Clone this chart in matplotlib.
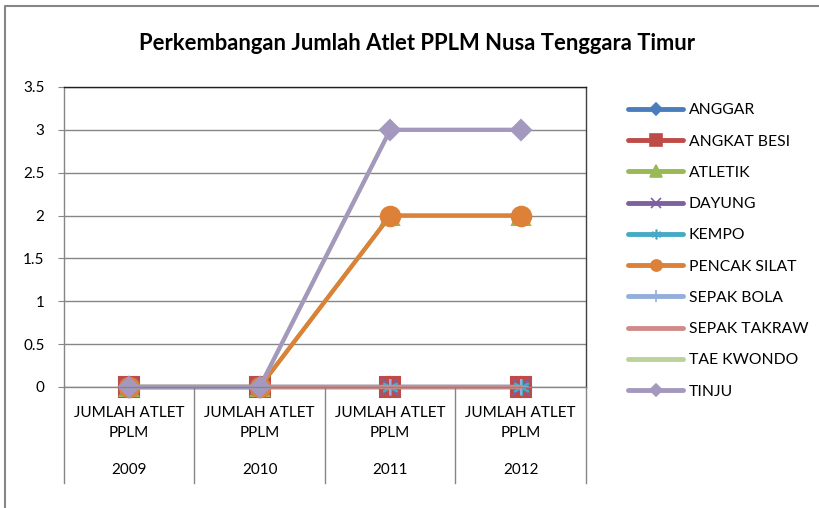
import numpy as np
import matplotlib.pyplot as plt
from matplotlib.lines import Line2D

plt.rcParams['font.family'] = ['Lato', 'DejaVu Sans']

# Data dari grafik
tahun = ['2009', '2010', '2011', '2012']
kategori = ['JUMLAH ATLET\nPPLM'] * 4
cabang = ['ANGGAR', 'ANGKAT BESI', 'ATLETIK', 'DAYUNG', 'KEMPO',
          'PENCAK SILAT', 'SEPAK BOLA', 'SEPAK TAKRAW', 'TAE KWONDO', 'TINJU']
anggar = [0, 0, 0, 0]
angkat_besi = [0, 0, 0, 0]
atletik = [0, 0, 2, 2]
dayung = [0, 0, 0, 0]
kempo = [0, 0, 0, 0]
pencak_silat = [0, 0, 2, 2]
sepak_bola = [0, 0, 0, 0]
sepak_takraw = [0, 0, 0, 0]
tae_kwondo = [0, 0, 3, 3]
tinju = [0, 0, 3, 3]
nilai = [anggar, angkat_besi, atletik, dayung, kempo,
         pencak_silat, sepak_bola, sepak_takraw, tae_kwondo, tinju]

warna = ['#4A7EBB', '#BE4B48', '#98B954', '#7D60A0', '#46AAC5',
         '#DD8038', '#92AEDA', '#D08B89', '#B9D398', '#A498BE']
penanda = ['D', 's', '^', 'x', (6, 2, 0), 'o', '+', None, None, 'D']
ukuran = [10, 14, 13, 12, 12, 14, 12, 0, 0, 10]
ukuran_leg = [6, 8, 8, 7, 7, 8, 8, 0, 0, 6]

fig = plt.figure(figsize=(8.2, 5.08), dpi=100)
ax = fig.add_axes([64/820, 1-387/508, 522/820, 300/508])

x = np.arange(len(tahun))
handles = []
for nama, y, c, m, s, sl in zip(cabang, nilai, warna, penanda, ukuran, ukuran_leg):
    ax.plot(x, y, color=c, lw=3, marker=m, markersize=s,
            markerfacecolor=c, markeredgecolor=c, markeredgewidth=1.5,
            clip_on=False, solid_capstyle='round')
    handles.append(Line2D([], [], color=c, lw=3.5, marker=m, markersize=sl,
                          markerfacecolor=c, markeredgecolor=c,
                          markeredgewidth=1.2, solid_capstyle='round', label=nama))

ax.set_xlim(-0.5, len(tahun) - 0.5)
ax.set_ylim(0, 3.5)
ax.set_yticks(np.arange(0, 3.51, 0.5))
ax.set_yticklabels(['0', '0.5', '1', '1.5', '2', '2.5', '3', '3.5'])
ax.yaxis.grid(True, color='#868686', lw=1)
ax.set_axisbelow(True)
ax.tick_params(axis='y', length=4, color='#868686', labelsize=11, pad=10)
ax.set_xticks([])
for sp in ax.spines.values():
    sp.set_color('#868686')
    sp.set_linewidth(1)
ax.spines['top'].set_color('#202020')
ax.spines['right'].set_color('#404040')

# label kategori bertingkat
tr = ax.get_xaxis_transform()
for i in range(len(tahun) + 1):
    ax.plot([i - 0.5, i - 0.5], [0, -96/300], transform=tr, color='#868686',
            lw=1, clip_on=False)
for i, (k, t) in enumerate(zip(kategori, tahun)):
    ax.text(i, -36/300, k, transform=tr, ha='center', va='center',
            fontsize=11, linespacing=1.5)
    ax.text(i, -83/300, t, transform=tr, ha='center', va='center', fontsize=11)

fig.text(417/820, 1-43/508, 'Perkembangan Jumlah Atlet PPLM Nusa Tenggara Timur',
         ha='center', va='center', fontsize=15.8, fontweight='bold')

fig.legend(handles=handles, loc='upper left', bbox_to_anchor=(622/820, 1-97/508),
           frameon=False, fontsize=11.3, handlelength=3.5, handletextpad=0.35,
           labelspacing=1.1, borderaxespad=0)

# bingkai area grafik
fig.add_artist(Line2D([5/820, 5/820, 1.0], [0, 1-6/508, 1-6/508],
                      transform=fig.transFigure, color='#868686', lw=1.5))

fig.savefig('out.png', dpi=100)
